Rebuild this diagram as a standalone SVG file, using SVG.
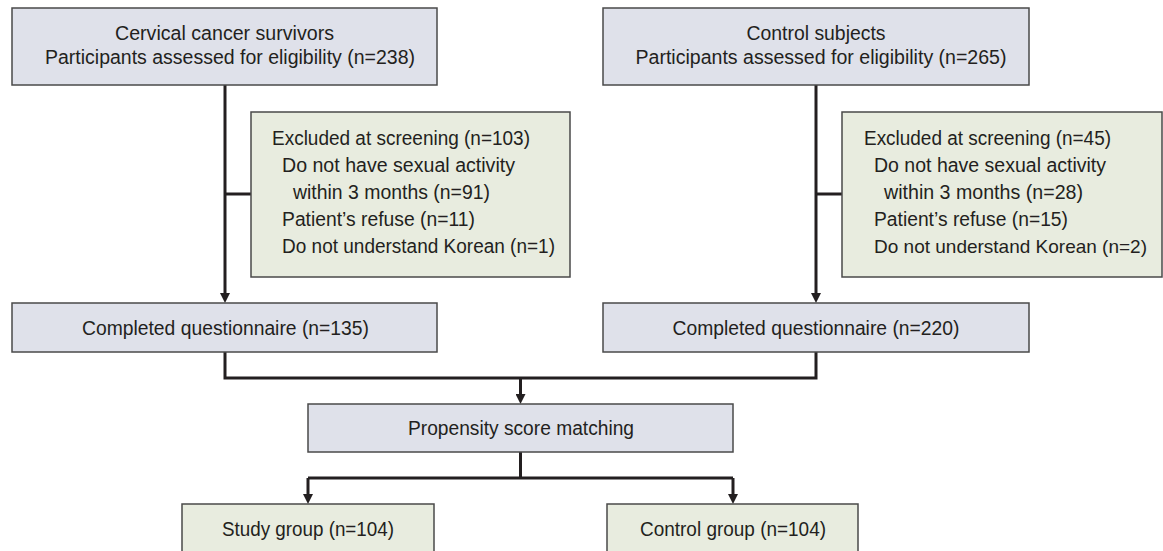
<svg xmlns="http://www.w3.org/2000/svg" width="1163" height="551" viewBox="0 0 1163 551">
<style>
.bb{fill:#dfe1ea;stroke:#4a4a4a;stroke-width:1.5}
.gb{fill:#e8ecdf;stroke:#4a4a4a;stroke-width:1.5}
text{font-family:"Liberation Sans Narrow","Liberation Sans",Arial,sans-serif;font-size:20px;fill:#231f20;font-stretch:condensed}
.c{text-anchor:middle}
.ln{fill:none;stroke:#231f20;stroke-width:3}
</style>
<defs>
<marker id="ah" viewBox="0 0 10 10" refX="6" refY="5" markerWidth="10" markerHeight="10" markerUnits="userSpaceOnUse" orient="auto">
<path d="M0,0 L10,5 L0,10 z" fill="#231f20"/>
</marker>
</defs>
<g id="connectors">
<path class="ln" d="M225,85 V299" marker-end="url(#ah)"/>
<path class="ln" d="M225,194 H251"/>
<path class="ln" d="M816,85 V299" marker-end="url(#ah)"/>
<path class="ln" d="M816,194 H842"/>
<path class="ln" d="M225,352 V378 H816 V352"/>
<path class="ln" d="M520.5,378 V400" marker-end="url(#ah)"/>
<path class="ln" d="M520.5,452 V478"/>
<path class="ln" d="M308,478 H733"/>
<path class="ln" d="M308,478 V500" marker-end="url(#ah)"/>
<path class="ln" d="M733,478 V500" marker-end="url(#ah)"/>
</g>
<g id="survivors">
<rect class="bb" x="12" y="8" width="425" height="77"/>
<text class="c" x="224.5" y="40" textLength="219" lengthAdjust="spacingAndGlyphs">Cervical cancer survivors</text>
<text class="c" x="230" y="64" textLength="370" lengthAdjust="spacingAndGlyphs">Participants assessed for eligibility (n=238)</text>
</g>
<g id="controls">
<rect class="bb" x="603" y="8" width="426" height="77"/>
<text class="c" x="816" y="40" textLength="139" lengthAdjust="spacingAndGlyphs">Control subjects</text>
<text class="c" x="821" y="64" textLength="371" lengthAdjust="spacingAndGlyphs">Participants assessed for eligibility (n=265)</text>
</g>
<g id="excluded-left">
<rect class="gb" x="251" y="112" width="319" height="165"/>
<text x="272" y="145" textLength="258" lengthAdjust="spacingAndGlyphs">Excluded at screening (n=103)</text>
<text x="282" y="172" textLength="233" lengthAdjust="spacingAndGlyphs">Do not have sexual activity</text>
<text x="293" y="199" textLength="197" lengthAdjust="spacingAndGlyphs">within 3 months (n=91)</text>
<text x="282" y="226" textLength="193" lengthAdjust="spacingAndGlyphs">Patient’s refuse (n=11)</text>
<text x="282" y="253" textLength="273" lengthAdjust="spacingAndGlyphs">Do not understand Korean (n=1)</text>
</g>
<g id="excluded-right">
<rect class="gb" x="842" y="112" width="320" height="165"/>
<text x="864" y="145" textLength="247" lengthAdjust="spacingAndGlyphs">Excluded at screening (n=45)</text>
<text x="874" y="172" textLength="232" lengthAdjust="spacingAndGlyphs">Do not have sexual activity</text>
<text x="884" y="199" textLength="199" lengthAdjust="spacingAndGlyphs">within 3 months (n=28)</text>
<text x="874" y="226" textLength="194" lengthAdjust="spacingAndGlyphs">Patient’s refuse (n=15)</text>
<text x="874" y="253" textLength="273" lengthAdjust="spacingAndGlyphs" style="font-size:19px">Do not understand Korean (n=2)</text>
</g>
<g id="completed-left">
<rect class="bb" x="12" y="303" width="425" height="49"/>
<text class="c" x="225.5" y="335" textLength="287" lengthAdjust="spacingAndGlyphs">Completed questionnaire (n=135)</text>
</g>
<g id="completed-right">
<rect class="bb" x="603" y="303" width="426" height="49"/>
<text class="c" x="816" y="335" textLength="287" lengthAdjust="spacingAndGlyphs">Completed questionnaire (n=220)</text>
</g>
<g id="psm">
<rect class="bb" x="308" y="404" width="425" height="48"/>
<text class="c" x="521" y="435" textLength="226" lengthAdjust="spacingAndGlyphs">Propensity score matching</text>
</g>
<g id="study-group">
<rect class="gb" x="182" y="504" width="252" height="48"/>
<text class="c" x="308" y="536" textLength="172" lengthAdjust="spacingAndGlyphs">Study group (n=104)</text>
</g>
<g id="control-group">
<rect class="gb" x="607" y="504" width="251" height="48"/>
<text class="c" x="733" y="536" textLength="186" lengthAdjust="spacingAndGlyphs">Control group (n=104)</text>
</g>
</svg>
